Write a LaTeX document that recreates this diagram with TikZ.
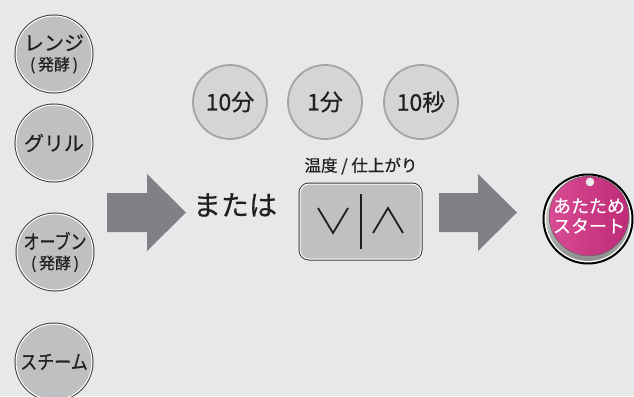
\documentclass[tikz,border=0pt]{standalone}
\usepackage{fontspec}
\setmainfont{Noto Sans CJK JP}[FakeBold=0.5]
\definecolor{bgcol}{HTML}{E7E8EA}
\definecolor{keygray}{HTML}{BFC0C2}
\definecolor{keyline}{HTML}{3A3A3A}
\definecolor{softkey}{HTML}{D4D5D7}
\definecolor{softline}{HTML}{A3A4A6}
\definecolor{arrowgray}{HTML}{808184}
\definecolor{pinkL}{HTML}{D84C93}
\definecolor{pinkR}{HTML}{BE2A76}
\definecolor{inkcol}{HTML}{231F20}
\newcommand{\subtxt}[1]{{\fontsize{16}{18}\selectfont #1}}

\begin{document}
\begin{tikzpicture}[x=1pt,y=-1pt,
modekey/.style={circle,minimum size=76pt,inner sep=0pt,fill=keygray,draw=white,line width=1pt,
  preaction={draw=keyline,line width=3pt},align=center,text=inkcol,
  font=\fontsize{20}{19}\selectfont},
timekey/.style={circle,minimum size=74pt,inner sep=0pt,fill=softkey,draw=softline,line width=1.8pt,
  text=inkcol,font=\fontsize{23}{23}\selectfont},
updown/.style={rectangle,rounded corners=9pt,minimum width=121pt,minimum height=75pt,fill=keygray,
  draw=white,line width=1pt,preaction={draw=keyline,line width=3pt}},
startkey/.style={circle,minimum size=74pt,inner sep=0pt,left color=pinkL,right color=pinkR,
  draw=black!60,line width=0.6pt,text=white,align=center,font=\fontsize{18}{20}\selectfont}]
\useasboundingbox (0,0) rectangle (634,396);
\fill[bgcol] (0,0) rectangle (634,396);
% mode keys
\node[modekey] (B1) at (54,54) {レンジ\\[1pt]\subtxt{(\,発酵\,)}};
\node[modekey] (B2) at (54,143) {グリル};
\node[modekey] (B3) at (55,252) {\scalebox{0.8}[1]{オーブン}\\[1pt]\subtxt{(\,発酵\,)}};
\node[modekey] (B4) at (54,362) {\scalebox{0.85}[1]{スチーム}};
% time keys
\node[timekey] (T1) at (230,102) {10分};
\node[timekey] (T2) at (325,102) {1分};
\node[timekey] (T3) at (421,102) {10秒};
% arrows
\fill[arrowgray,shift={(107,193)}] (0,0) -- (40,0) -- (40,-19) -- (79,19.5) -- (40,58) -- (40,39) -- (0,39) -- cycle;
\fill[arrowgray,shift={(439,193)}] (0,0) -- (39,0) -- (39,-19) -- (78,19.5) -- (39,58) -- (39,39) -- (0,39) -- cycle;
\node[text=inkcol,font=\fontsize{28}{28}\selectfont] (OR) at (235,205) {または};
% up/down key
\node[text=inkcol,font=\fontsize{16.5}{16}\selectfont] (L) at (361,166) {温度 / 仕上がり};
\node[updown] (UD) at (360.5,221.5) {};
\draw[inkcol,line width=2pt] (UD.center) ++(0,-27.5) -- ++(0,55);
\draw[inkcol,line width=1.8pt] (UD.center) ++(-42.5,-13.5) -- ++(15,25) -- ++(15,-25);
\draw[inkcol,line width=1.8pt] (UD.center) ++(12.5,11.5) -- ++(15,-25) -- ++(15,25);
% start key
\filldraw[fill=white,draw=black,line width=2pt] (588,219) circle (44.5);
\shade[top color=white!95!gray,bottom color=black!45] (588,219) circle (42);
\node[startkey] (S) at (589,216) {あたため\\スタート};
\fill[white!85!gray] (S.center) ++(1,-34) circle (4.3);
\end{tikzpicture}
\end{document}
